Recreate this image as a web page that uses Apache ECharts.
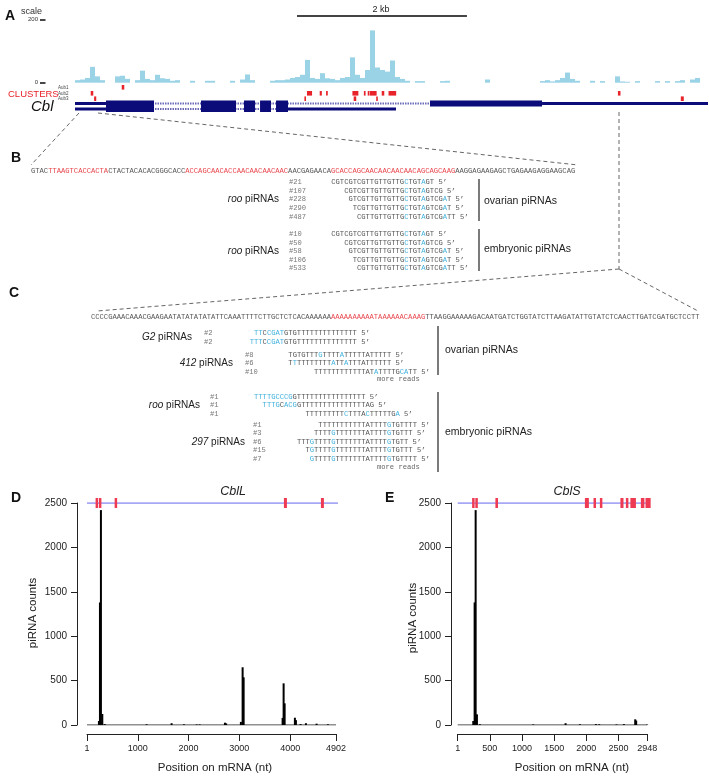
<!DOCTYPE html>
<html><head><meta charset="utf-8">
<script src="https://cdn.jsdelivr.net/npm/echarts@6.0.0/dist/echarts.min.js"></script>
<style>html,body{margin:0;padding:0;background:#fff}#c{width:709px;height:776px}</style>
</head><body><div id="c"></div><script>
// ---------------- DATA ----------------
// Panel A: piRNA coverage over the Cbl locus (bins left->right, reads; scale 0-200)
const coverage = [8,10,15,50,20,8,0,0,20,22,12,0,8,38,12,8,25,14,12,6,8,0,0,6,0,0,6,6,0,0,
  0,6,0,10,26,8,0,0,0,6,8,8,10,15,18,25,72,15,12,30,14,12,8,15,18,80,25,15,40,165,
  48,40,35,70,18,12,6,0,5,5,0,0,0,5,6,0,0,0,0,0,0,0,10,0,0,0,0,0,0,0,
  0,0,0,5,8,4,8,15,32,12,6,0,0,6,0,5,0,0,20,4,3,0,5,0,0,0,5,0,5,0,
  5,8,0,10,15];
const geneLength = 7450; // bp shown in panel A
// exons: [start, end, transcript (0 = long, 1 = short), coding (1) / UTR (0)]
const exons = [
  [0,365,0,0],[365,930,0,1],[1483,1895,0,1],[1989,2119,0,1],[2178,2307,0,1],[2366,2507,0,1],[4178,5497,0,1],[5497,7450,0,0],
  [0,365,1,0],[365,930,1,1],[1483,1895,1,1],[1989,2119,1,1],[2178,2307,1,1],[2366,2507,1,1],[2507,3778,1,0]
];
const transcripts = [[0,7450,0],[0,3778,1]];
// Aub clusters: [start, end, row (0 Aub1, 1 Aub2, 2 Aub3)]
const clusters = [
  [550,580,0],
  [185,215,1],[2730,2790,1],[2880,2905,1],[2955,2975,1],[3265,3335,1],[3400,3420,1],[3445,3465,1],[3470,3550,1],[3610,3640,1],[3690,3780,1],[6390,6420,1],
  [225,250,2],[2700,2715,2],[3280,3310,2],[3545,3560,2],[7130,7165,2]
];
const scaleBar = [[2613, 4613]]; // 2 kb

// Panel B
const seqB = "GTACttaagtcaccactaCTACTACACACGGGCACCaccagcaacaccaacaacaacaacAACGAGAACAgcaccagcaacaacaacaacagcagcaagAAGGAGAAGAGCTGAGAAGAGGAAGCAG";
const bOvIds = ['#21','#107','#228','#290','#487'];
const bEmIds = ['#10','#50','#58','#106','#533'];
const bSeqs = ["CGTCGTCGTTGTTGTTGcTGTaGT","CGTCGTTGTTGTTGcTGTaGTCG","GTCGTTGTTGTTGcTGTaGTCGaT","TCGTTGTTGTTGcTGTaGTCGaT","CGTTGTTGTTGcTGTaGTCGaTT"];
const bCols = [70,73,74,75,76];

// Panel C
const seqC = "CCCCGAAACAAACGAAGAATATATATATATTCAAATTTTCTTGCTCTCACAAAAAAaaaaaaaaaataaaaaacaaagTTAAGGAAAAAGACAATGATCTGGTATCTTAAGATATTGTATCTCAACTTGATCGATGCTCCTT";
const g2Ids = ['#2','#2'];
const g2Seqs = ["ttCcgatGTGTTTTTTTTTTTTTT","tttCcgatGTGTTTTTTTTTTTTTT"];
const g2Cols = [38,37];
const p412Ids = ['#8','#6','#10'];
const p412Seqs = ["TGTGTTTgTTTTaTTTTTATTTTT","TtTTTTTTTTaTTaTTTATTTTTT","TTTTTTTTTTTTATaTTTTGcaTT"];
const p412Cols = [46,46,52];
const rooCIds = ['#1','#1','#1'];
const rooCSeqs = ["ttttgcccgGTTTTTTTTTTTTTTTT","tttgCacgGTTTTTTTTTTTTTTTAG","TTTTTTTTTcTTTAcTTTTTGa"];
const rooCCols = [38,40,50];
const p297Ids = ['#1','#3','#6','#15','#7'];
const p297Seqs = ["TTTTTTTTTTTATTTTgTGTTTT","TTTTgTTTTTTTATTTTgTGTTT","TTTgTTTTgTTTTTTTATTTTgTGTT","TgTTTTgTTTTTTTATTTTgTGTTT","gTTTTgTTTTTTTATTTTgTGTTTT"];
const p297Cols = [53,52,48,50,51];

// Panel D (CblL mRNA, 4902 nt): [position, piRNA count]
const dCounts = [[236,45],[256,1380],[275,2420],[302,124],[350,10],[1175,8],[1666,20],[1909,8],[2159,6],[2218,6],
  [2716,26],[2740,18],[3030,35],[3064,650],[3084,537],[3851,80],[3871,469],[3891,244],[4093,82],[4113,55],[4204,10],[4310,20],[4520,15],[4743,8]];
const dTicks = [1,1000,2000,3000,4000,4902];
const dMarks = [[170,215],[235,275],[545,590],[3877,3936],[4605,4664]];
// Panel E (CblS mRNA, 2948 nt)
const eCounts = [[243,45],[264,1380],[280,2420],[300,120],[346,8],[1175,6],[1678,20],[1900,8],[2149,10],[2200,8],[2470,6],[2584,10],[2760,64],[2775,50],[2946,5]];
const eTicks = [1,500,1000,1500,2000,2500,2948];
const eMarks = [[225,260],[275,305],[587,627],[1978,2040],[2112,2149],[2211,2243],[2530,2578],[2615,2647],[2685,2771],[2848,2903],[2920,3000]];

// ---------------- STYLE / LAYOUT ----------------
const SANS = '"Liberation Sans", Arial, sans-serif';
const MONO = '"Liberation Mono", "DejaVu Sans Mono", monospace';
const MFS = 7.15, CW = MFS * 0.6;
const NAVY = '#0b0b7a', RED = '#e8232a', SEQRED = '#e8454c', BLUE = '#3fb0dc', GRAY = '#555';
const TRACK_Y = [93.5, 99], AUB_Y = [77.3, 83.3, 88.7];
const plain = v => String(v);

function richSeq(str, suffix){
  let out='', cur=null, buf='';
  for (const ch of str){
    const k = (ch >= 'a' && ch <= 'z') ? 'h' : 'n';
    if (k !== cur){ if (buf) out += '{'+cur+'|'+buf+'}'; buf=''; cur=k; }
    buf += ch.toUpperCase();
  }
  if (buf) out += '{'+cur+'|'+buf+'}';
  if (suffix) out += '{n|'+suffix+'}';
  return out;
}
function seqEl(x, y, str, hi, suffix){
  return {type:'text', x:x, y:y, silent:true, style:{text: richSeq(str, suffix), verticalAlign:'middle', align:'left',
    fontFamily: MONO, fontSize: MFS,
    rich:{n:{fill:GRAY, fontFamily:MONO, fontSize:MFS}, h:{fill:hi, fontFamily:MONO, fontSize:MFS}}}};
}
function txt(x, y, t, o){
  return {type:'text', x:x, y:y, silent:true, style:Object.assign({text:t, fill:'#222', fontFamily:SANS, fontSize:10, verticalAlign:'middle', align:'left'}, o||{})};
}
function label(x, y, it, rest){
  return {type:'text', x:x, y:y, silent:true, style:{text:'{i|'+it+'}{n|'+rest+'}', align:'right', verticalAlign:'middle',
    rich:{i:{fontStyle:'italic', fontFamily:SANS, fontSize:10, fill:'#222'}, n:{fontFamily:SANS, fontSize:10, fill:'#222'}}}};
}
function idEl(x, y, t){ return txt(x, y, t, {fontFamily:MONO, fontSize:MFS, fill:'#777'}); }
function vbar(x, y1, y2){ return {type:'line', silent:true, shape:{x1:x,y1:y1,x2:x,y2:y2}, style:{stroke:'#333', lineWidth:1.3}}; }
function dash(pts){ return {type:'polyline', silent:true, shape:{points:pts}, style:{stroke:'#666', lineWidth:1, lineDash:[4,3], fill:null}}; }

const graphics = [];
[['A',5,16],['B',11,158],['C',9,293],['D',11,498],['E',385,498]].forEach(a=>graphics.push(txt(a[1],a[2],a[0],{fontSize:14,fontWeight:'bold',fill:'#111'})));
graphics.push(txt(21,12,'scale',{fontSize:9,fill:'#333'}));
graphics.push(txt(381,10,'2 kb',{fontSize:9,align:'center',fill:'#222'}));
graphics.push(txt(8,94,'CLUSTERS',{fontSize:9.5,fill:RED}));
['Aub1','Aub2','Aub3'].forEach((a,i)=>graphics.push(txt(58,[87.3,93.3,98.7][i],a,{fontSize:4.5,fill:'#444'})));
graphics.push(txt(31,107,'Cbl',{fontSize:15,fontStyle:'italic',fill:'#111'}));
graphics.push(dash([[79,113],[31,165]]));
graphics.push(dash([[98,113],[578,165]]));
graphics.push(dash([[619,112],[619,269]]));
graphics.push(dash([[619,269],[97,311]]));
graphics.push(dash([[619,269],[698,311]]));
// Panel B
graphics.push(seqEl(31,171,seqB,SEQRED));
const bY1=[182,190.7,199.4,208.1,216.8], bY2=[234.5,243,251.5,260,268.5];
bOvIds.forEach((id,i)=>{ graphics.push(idEl(289,bY1[i],id)); graphics.push(seqEl(31+bCols[i]*CW,bY1[i],bSeqs[i],BLUE,' 5’')); });
bEmIds.forEach((id,i)=>{ graphics.push(idEl(289,bY2[i],id)); graphics.push(seqEl(31+bCols[i]*CW,bY2[i],bSeqs[i],BLUE,' 5’')); });
graphics.push(label(279,bY1[2],'roo',' piRNAs'));
graphics.push(label(279,bY2[2],'roo',' piRNAs'));
graphics.push(vbar(479,179,221)); graphics.push(vbar(479,229,271));
graphics.push(txt(484,201,'ovarian piRNAs',{fontSize:10.5}));
graphics.push(txt(484,249,'embryonic piRNAs',{fontSize:10.5}));
// Panel C
const CX = 91;
graphics.push(seqEl(CX,317,seqC,SEQRED));
function cGroup(ids, seqs, cols, idx, ys){ ids.forEach((id,i)=>{ graphics.push(idEl(idx,ys[i],id)); graphics.push(seqEl(CX+cols[i]*CW,ys[i],seqs[i],BLUE,' 5’')); }); }
cGroup(g2Ids,g2Seqs,g2Cols,204,[333,342]);
graphics.push(label(192,337.5,'G2',' piRNAs'));
cGroup(p412Ids,p412Seqs,p412Cols,245,[355,363.5,372]);
graphics.push(label(233,363.5,'412',' piRNAs'));
graphics.push(txt(377,379,'more reads',{fontFamily:MONO,fontSize:MFS,fill:'#666'}));
cGroup(rooCIds,rooCSeqs,rooCCols,210,[397,405.5,414]);
graphics.push(label(200,405.5,'roo',' piRNAs'));
cGroup(p297Ids,p297Seqs,p297Cols,253,[425,433.5,442,450.5,459]);
graphics.push(label(245,442,'297',' piRNAs'));
graphics.push(txt(377,467,'more reads',{fontFamily:MONO,fontSize:MFS,fill:'#666'}));
graphics.push(vbar(438,326,375)); graphics.push(vbar(438,392,472));
graphics.push(txt(445,350,'ovarian piRNAs',{fontSize:10.5}));
graphics.push(txt(445,432,'embryonic piRNAs',{fontSize:10.5}));
// Panels D / E texts
graphics.push(txt(233,492,'CblL',{fontSize:12.5,fontStyle:'italic',align:'center'}));
graphics.push(txt(567,492,'CblS',{fontSize:12.5,fontStyle:'italic',align:'center'}));
graphics.push(txt(215,768,'Position on mRNA (nt)',{fontSize:11.5,align:'center'}));
graphics.push(txt(572,768,'Position on mRNA (nt)',{fontSize:11.5,align:'center'}));
graphics.push({type:'text',x:33,y:613,rotation:Math.PI/2,silent:true,style:{text:'piRNA counts',fill:'#222',fontFamily:SANS,fontSize:11.5,align:'center',verticalAlign:'middle'}});
graphics.push({type:'text',x:413,y:618,rotation:Math.PI/2,silent:true,style:{text:'piRNA counts',fill:'#222',fontFamily:SANS,fontSize:11.5,align:'center',verticalAlign:'middle'}});

// ---------------- CHART ----------------
function valueX(grid, min, max, ticks){
  return {type:'value', gridIndex:grid, min:min, max:max, offset:9,
    axisLine:{show:true,onZero:false,lineStyle:{color:'#222',width:1}},
    axisTick:{show:true,customValues:ticks,length:7,lineStyle:{color:'#222'}},
    axisLabel:{customValues:ticks,fontSize:9,color:'#222',margin:10,fontFamily:SANS,hideOverlap:false,formatter:plain},
    splitLine:{show:false}};
}
function valueY(grid, offset){
  return {type:'value', gridIndex:grid, min:0, max:2500, interval:500, offset:offset,
    axisLine:{show:true,lineStyle:{color:'#222',width:1}},
    axisTick:{show:true,length:6,lineStyle:{color:'#222'}},
    axisLabel:{fontSize:10,color:'#222',margin:10,fontFamily:SANS,formatter:plain},
    splitLine:{show:false}};
}
function markSeries(xi, yi, marks){
  return {type:'custom', xAxisIndex:xi, yAxisIndex:yi, data:marks, z:6, clip:false, silent:true,
    renderItem:(p,api)=>{ const a=api.coord([api.value(0),2500]), b=api.coord([api.value(1),2500]);
      return {type:'rect', shape:{x:a[0], y:a[1]-5, width:Math.max(b[0]-a[0],2.5), height:10}, style:{fill:'#ee3a52'}}; }};
}
function trackLine(xi, yi, max){
  return {type:'line', xAxisIndex:xi, yAxisIndex:yi, data:[[1,2500],[max,2500]], symbol:'none', z:5, silent:true,
    lineStyle:{color:'#8a8af2', width:1.3}};
}
function zeroLine(xi, yi, max){
  return {type:'line', xAxisIndex:xi, yAxisIndex:yi, data:[[1,0],[max,0]], symbol:'none', silent:true, lineStyle:{color:'#222', width:1}};
}

const option = {
  animation:false,
  backgroundColor:'#fff',
  grid:[
    {left:75, top:19.3, width:625, height:63.4},
    {left:75, top:10, width:633, height:105},
    {left:87, top:503, width:249, height:222},
    {left:457.7, top:503, width:189.6, height:222}
  ],
  xAxis:[
    {type:'category', gridIndex:0, data:coverage.map((_,i)=>i), show:false},
    {type:'value', gridIndex:1, min:0, max:geneLength, show:false},
    valueX(2,1,4902,dTicks),
    valueX(3,1,2948,eTicks)
  ],
  yAxis:[
    {type:'value', gridIndex:0, min:0, max:200, interval:200, offset:29.5,
      axisLine:{show:false}, axisTick:{show:true,length:5.5,lineStyle:{color:'#333',width:1.8}},
      axisLabel:{fontSize:6,color:'#333',margin:7.5,fontFamily:SANS,formatter:plain}, splitLine:{show:false}},
    {type:'value', gridIndex:1, min:0, max:105, inverse:true, show:false},
    valueY(2,10),
    valueY(3,6.7)
  ],
  graphic: graphics,
  series:[
    {type:'bar', xAxisIndex:0, yAxisIndex:0, data:coverage, barCategoryGap:'0%', itemStyle:{color:'#9ad2e6'}, silent:true},
    {type:'custom', xAxisIndex:1, yAxisIndex:1, data:transcripts, silent:true, z:3,
      renderItem:(p,api)=>{ const y=TRACK_Y[api.value(2)]; const a=api.coord([api.value(0),y]), b=api.coord([api.value(1),y]);
        return {type:'line', shape:{x1:a[0],y1:a[1],x2:b[0],y2:b[1]}, style:{stroke:'#6a6ab8', lineWidth:2, lineDash:[1.5,1]}}; }},
    {type:'custom', xAxisIndex:1, yAxisIndex:1, data:exons, silent:true, z:4,
      renderItem:(p,api)=>{ const y=TRACK_Y[api.value(2)]; const a=api.coord([api.value(0),y]), b=api.coord([api.value(1),y]);
        const h = api.value(3) ? 6 : 3;
        return {type:'rect', shape:{x:a[0], y:a[1]-h/2, width:b[0]-a[0], height:h}, style:{fill:NAVY}}; }},
    {type:'custom', xAxisIndex:1, yAxisIndex:1, data:clusters, silent:true, z:4,
      renderItem:(p,api)=>{ const y=AUB_Y[api.value(2)]; const a=api.coord([api.value(0),y]), b=api.coord([api.value(1),y]);
        return {type:'rect', shape:{x:a[0], y:a[1]-2.3, width:Math.max(b[0]-a[0],1.6), height:4.6}, style:{fill:RED}}; }},
    {type:'custom', xAxisIndex:1, yAxisIndex:1, data:scaleBar, silent:true,
      renderItem:(p,api)=>{ const a=api.coord([api.value(0),6]), b=api.coord([api.value(1),6]);
        return {type:'line', shape:{x1:a[0],y1:a[1],x2:b[0],y2:b[1]}, style:{stroke:'#444', lineWidth:2}}; }},
    zeroLine(2,2,4902),
    {type:'bar', xAxisIndex:2, yAxisIndex:2, data:dCounts, barWidth:2, itemStyle:{color:'#000'}, silent:true, z:4},
    trackLine(2,2,4960),
    markSeries(2,2,dMarks),
    zeroLine(3,3,2948),
    {type:'bar', xAxisIndex:3, yAxisIndex:3, data:eCounts, barWidth:2, itemStyle:{color:'#000'}, silent:true, z:4},
    trackLine(3,3,3000),
    markSeries(3,3,eMarks)
  ]
};
const chart = echarts.init(document.getElementById('c'));
chart.setOption(option);
</script></body></html>
